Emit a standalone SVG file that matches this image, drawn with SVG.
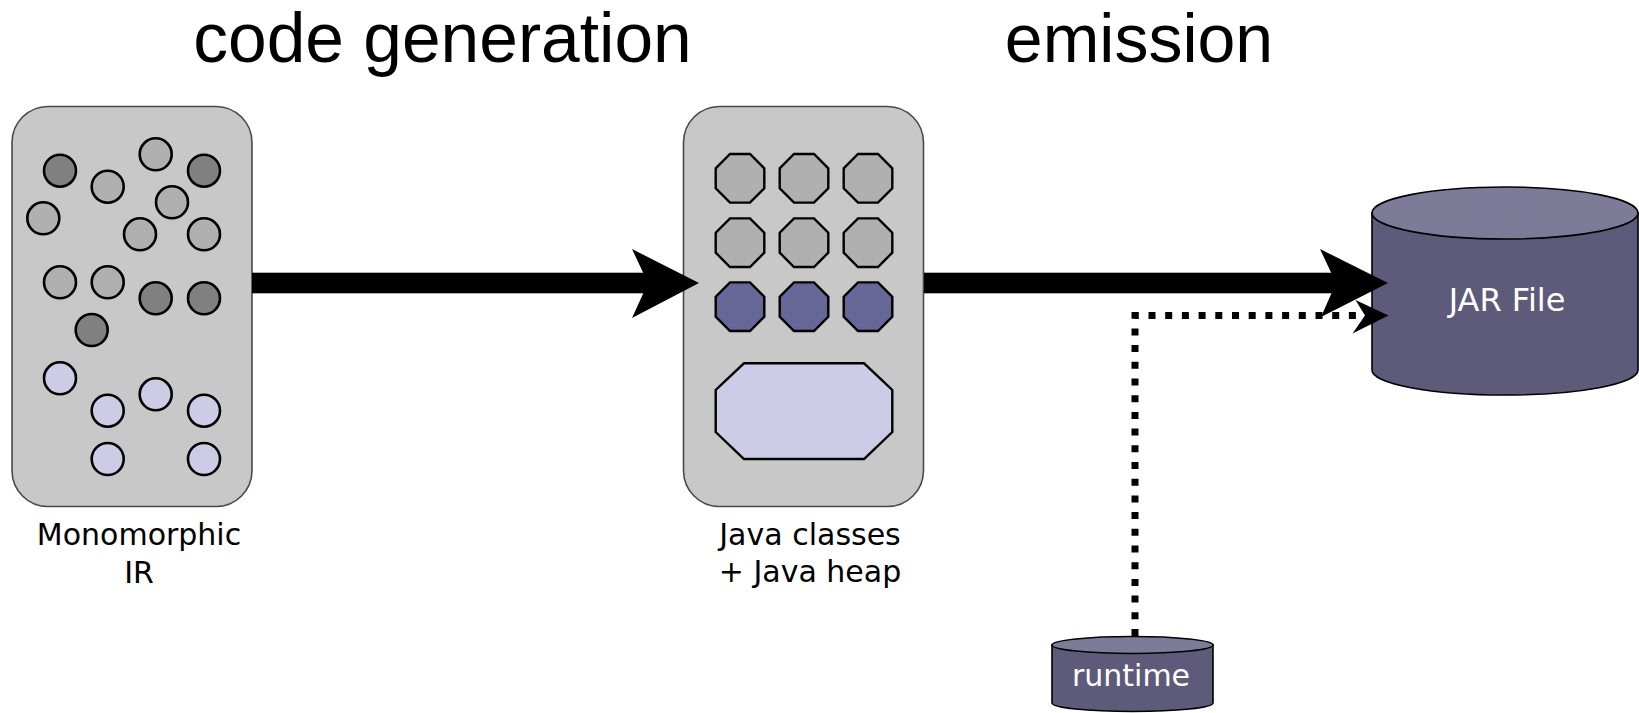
<svg xmlns="http://www.w3.org/2000/svg" width="1639" height="713" viewBox="0 0 1639 713">
<style>
.title{font-family:"Liberation Sans",Arial,sans-serif;fill:#000;text-anchor:middle}
.lbl{font-family:"DejaVu Sans","Noto Sans",sans-serif;font-size:30px;fill:#000;text-anchor:middle}
.wlbl{font-family:"DejaVu Sans","Noto Sans",sans-serif;fill:#fff;text-anchor:middle}
.box{fill:#c8c8c8;stroke:#4a4a4a;stroke-width:1.6}
.c{stroke:#000;stroke-width:2.6}
.dk{fill:#808080}
.md{fill:#b0b0b0}
.lv{fill:#cccce6}
.pp{fill:#666699}
.oct{stroke:#000;stroke-width:2.4}
.cylbody{fill:#5d5a7a;stroke:#000;stroke-width:1.6}
.cyltop{fill:#7d7b98;stroke:#000;stroke-width:1.6}
</style>
<defs>
<polygon id="o" points="-10,-24.3 10,-24.3 24.3,-10 24.3,10 10,24.3 -10,24.3 -24.3,10 -24.3,-10"/>
</defs>

<text class="title" x="442.5" y="62" font-size="69.5">code generation</text>
<text class="title" x="1139" y="62" font-size="68">emission</text>

<g id="ir">
  <rect class="box" x="12" y="106.5" width="240" height="400" rx="36" ry="36"/>
  <g class="c">
    <circle class="dk" cx="60" cy="170.7" r="16"/>
    <circle class="md" cx="107.7" cy="186.7" r="16"/>
    <circle class="md" cx="155.7" cy="154.3" r="16"/>
    <circle class="dk" cx="204" cy="170.7" r="16"/>
    <circle class="md" cx="43.3" cy="218.3" r="16"/>
    <circle class="md" cx="172" cy="202.3" r="16"/>
    <circle class="md" cx="140" cy="234.3" r="16"/>
    <circle class="md" cx="204" cy="234.3" r="16"/>
    <circle class="md" cx="60" cy="282.3" r="16"/>
    <circle class="md" cx="107.7" cy="282.3" r="16"/>
    <circle class="dk" cx="155.7" cy="298.3" r="16"/>
    <circle class="dk" cx="204" cy="298.3" r="16"/>
    <circle class="dk" cx="91.7" cy="330" r="16"/>
    <circle class="lv" cx="60" cy="378.3" r="16"/>
    <circle class="lv" cx="107.7" cy="410.7" r="16"/>
    <circle class="lv" cx="155.7" cy="394.3" r="16"/>
    <circle class="lv" cx="204" cy="410.7" r="16"/>
    <circle class="lv" cx="107.7" cy="459" r="16"/>
    <circle class="lv" cx="204" cy="459" r="16"/>
  </g>
  <text class="lbl" x="139" y="545">Monomorphic</text>
  <text class="lbl" x="139" y="583">IR</text>
</g>

<g id="java">
  <rect class="box" x="683.5" y="106.5" width="240" height="400" rx="36" ry="36"/>
  <g class="oct">
    <use href="#o" class="md" x="740" y="178.3"/>
    <use href="#o" class="md" x="804" y="178.3"/>
    <use href="#o" class="md" x="868" y="178.3"/>
    <use href="#o" class="md" x="740" y="242.7"/>
    <use href="#o" class="md" x="804" y="242.7"/>
    <use href="#o" class="md" x="868" y="242.7"/>
    <use href="#o" class="pp" x="740" y="306.7"/>
    <use href="#o" class="pp" x="804" y="306.7"/>
    <use href="#o" class="pp" x="868" y="306.7"/>
    <polygon class="lv" points="744,363.3 864,363.3 892.3,390 892.3,432 864,459 744,459 715.7,432 715.7,390"/>
  </g>
  <text class="lbl" x="810" y="545">Java classes</text>
  <text class="lbl" x="810" y="582">+ Java heap</text>
</g>

<g id="jar">
  <path class="cylbody" d="M1372,213 L1372,370 A133,25 0 0 0 1638,370 L1638,213 Z"/>
  <ellipse class="cyltop" cx="1505" cy="213" rx="133" ry="26"/>
  <text class="wlbl" x="1507" y="311" font-size="32">JAR File</text>
</g>

<g id="runtime">
  <path class="cylbody" d="M1052,645 L1052,703 A80.5,8.5 0 0 0 1213,703 L1213,645 Z"/>
  <ellipse class="cyltop" cx="1132.5" cy="645" rx="80.5" ry="8.5"/>
  <text class="wlbl" x="1131" y="686" font-size="30">runtime</text>
</g>

<g id="connectors">
  <rect x="252" y="272.7" width="398" height="20.6" fill="#000"/>
  <polygon points="632,249 699,283 632,318 648,283" fill="#000"/>
  <rect x="924" y="272.7" width="414" height="20.6" fill="#000"/>
  <polygon points="1320,249 1388,283 1321,317 1336,283" fill="#000"/>
  <polyline points="1135,636 1135,315.5 1364,315.5" fill="none" stroke="#000" stroke-width="7" stroke-dasharray="7 9.7"/>
  <polygon points="1355.5,300 1388.5,315.5 1352.5,333.5 1365,315.5" fill="#000"/>
</g>
</svg>
